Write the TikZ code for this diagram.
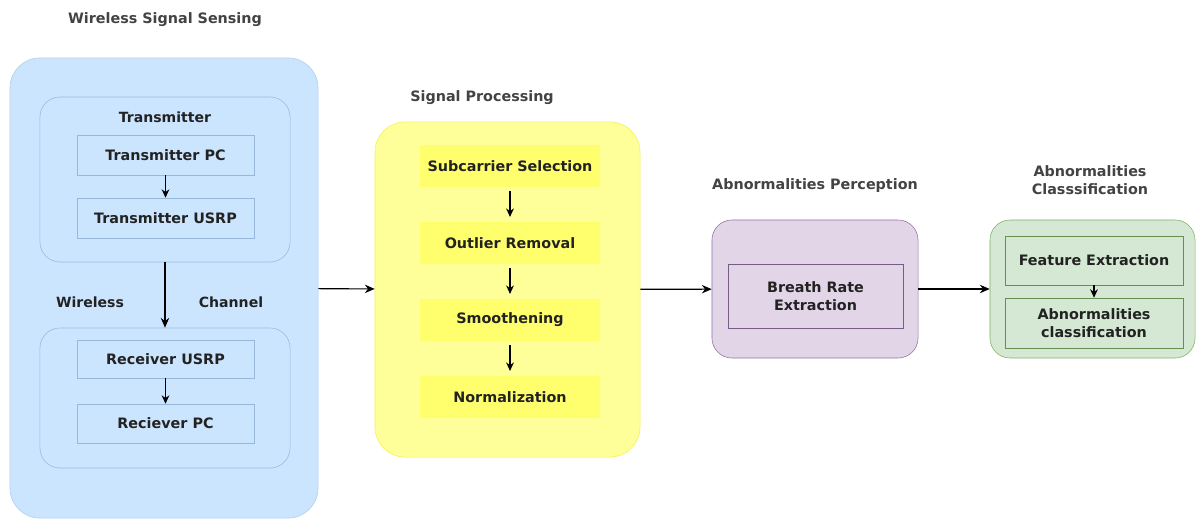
\documentclass[tikz,border=0pt]{standalone}
\usepackage{fontspec}
\setmainfont{DejaVu Sans}
\usetikzlibrary{positioning}
\usetikzlibrary{arrows.meta}
\definecolor{bluefill}{HTML}{CCE5FF}
\definecolor{blueline}{HTML}{A9CDF2}
\definecolor{yelfill}{HTML}{FFFF99}
\definecolor{yelline}{HTML}{F2F25A}
\definecolor{yelbox}{HTML}{FFFF6E}
\definecolor{purfill}{HTML}{E1D5E7}
\definecolor{purline}{HTML}{9673A6}
\definecolor{grnfill}{HTML}{D5E8D4}
\definecolor{grnline}{HTML}{82B366}
\definecolor{txt}{HTML}{222222}
\tikzset{
    stagetitle/.style = {align=center,font=\fontsize{10.2}{12.5}\selectfont\bfseries,text=txt!85},
    grpblue/.style = {rounded corners=0.75cm, draw=blueline, fill=bluefill},
    grpbluein/.style = {rounded corners=0.5cm, draw=blueline!90!black, fill=bluefill},
    boxblue/.style = {draw=blueline!90!black, fill=bluefill, minimum width=4.425cm, minimum height=1cm, font=\fontsize{10.2}{12.5}\selectfont\bfseries, text=txt},
    grpyel/.style = {rounded corners=0.75cm, draw=yelline, fill=yelfill},
    boxyel/.style = {fill=yelbox, minimum width=4.5cm, minimum height=1.05cm, font=\fontsize{10.2}{12.5}\selectfont\bfseries, text=txt},
    grppur/.style = {rounded corners=0.5cm, draw=purline, fill=purfill},
    boxpur/.style = {draw=purline!80!black, fill=purfill, align=center, font=\fontsize{10.2}{12.5}\selectfont\bfseries, text=txt},
    grpgrn/.style = {rounded corners=0.5cm, draw=grnline, fill=grnfill},
    boxgrn/.style = {draw=grnline!80!black, fill=grnfill, align=center, minimum width=4.45cm, font=\fontsize{10.2}{12.5}\selectfont\bfseries, text=txt},
    plain/.style = {font=\fontsize{10}{12}\selectfont\bfseries, text=txt},
    edgea/.style = {-{Stealth[length=7pt,width=6pt]}, thick, black},
    edges/.style = {-{Stealth[length=6pt,width=5.5pt]}, thick, black},
    edgegap/.style = {edges, shorten <=0.1cm, shorten >=0.12cm}, % yellow steps
}
\begin{document}
\begin{tikzpicture}[x=0.025cm,y=-0.025cm]
\path[use as bounding box, fill=white] (0,0) rectangle (1198,520);
% wireless signal sensing
\node[stagetitle] at (165,20) (wsstitle) {Wireless Signal Sensing};
\node[grpblue, minimum width=7.7cm, minimum height=11.5cm] at (164,288) (wss) {};
\node[grpbluein, minimum width=6.25cm, minimum height=4.125cm] at (165,179.5) (tx) {};
\node[plain] at (165,117) (txtitle) {Transmitter};
\node[boxblue] at (165.5,155) (txpc) {Transmitter PC};
\node[boxblue] at (165.5,218) (txusrp) {Transmitter USRP};
\node[grpbluein, minimum width=6.25cm, minimum height=3.5cm] at (165,398) (rx) {};
\node[boxblue, minimum height=0.95cm] at (165.5,359) (rxusrp) {Receiver USRP};
\node[boxblue, minimum height=0.975cm] at (165.5,423.5) (rxpc) {Reciever PC};
\node[plain] at (90,302) (wl) {Wireless};
\node[plain] at (231,302) (ch) {Channel};
%
\draw[edges] (txpc) -- (txusrp);
\draw[edgea] (tx) -- (rx);
\draw[edges] (rxusrp) -- (rxpc);
% signal processing
\node[stagetitle] at (482,98) (sptitle) {Signal Processing};
\node[grpyel, minimum width=6.625cm, minimum height=8.375cm] at (507.5,289.5) (sp) {};
\node[boxyel] at (510,166) (sub) {Subcarrier Selection};
\node[boxyel] at (510,243) (out) {Outlier Removal};
\node[boxyel] at (510,320) (smo) {Smoothening};
\node[boxyel] at (510,397) (nor) {Normalization};
%
\draw[edgegap] (sub) -- (out);
\draw[edgegap] (out) -- (smo);
\draw[edgegap] (smo) -- (nor);
% abnormalities perception
\node[stagetitle] at (815,186) (aptitle) {Abnormalities Perception};
\node[grppur, minimum width=5.15cm, minimum height=3.45cm] at (815,289) (ap) {};
\node[boxpur, minimum width=4.375cm, minimum height=1.6cm] at (815.5,296) (br) {Breath Rate\\Extraction};
% abnormalities classification
\node[stagetitle] at (1090,180) (actitle) {Abnormalities\\Classsification};
\node[grpgrn, minimum width=5.125cm, minimum height=3.45cm] at (1092.5,289) (ac) {};
\node[boxgrn, minimum height=1.225cm] at (1094,260.5) (fe) {Feature Extraction};
\node[boxgrn, minimum height=1.25cm] at (1094,323) (cl) {Abnormalities\\classification};
%
\draw[edges] (fe) -- (cl);
% stages
\draw[edgea] (wss) -- (sp);
\draw[edgea] (sp) -- (ap);
\draw[edgea] (ap) -- (ac);
\end{tikzpicture}
\end{document}
